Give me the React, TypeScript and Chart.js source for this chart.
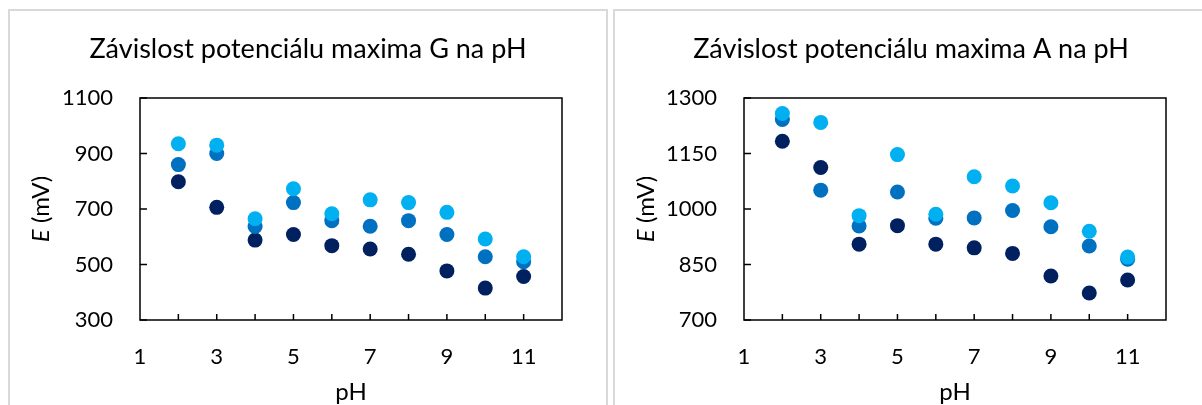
import React, { useEffect, useRef } from 'react';
import { Chart, registerables } from 'chart.js';

Chart.register(...registerables);

// ---------- data ----------
const pH = [2, 3, 4, 5, 6, 7, 8, 9, 10, 11];
const xTickLabels = [1, 3, 5, 7, 9, 11];
const xTickMarks = [2, 3, 4, 5, 6, 7, 8, 9, 10, 11];

const gTitle = 'Závislost potenciálu maxima G na pH';
const gYTicks = [300, 500, 700, 900, 1100];
const gLight = [935, 930, 665, 773, 683, 733, 723, 688, 592, 528];
const gMedium = [860, 900, 637, 723, 658, 638, 658, 608, 528, 510];
const gDark = [798, 706, 588, 608, 568, 556, 537, 477, 415, 457];

const aTitle = 'Závislost potenciálu maxima A na pH';
const aYTicks = [700, 850, 1000, 1150, 1300];
const aLight = [1258, 1234, 982, 1147, 986, 1087, 1062, 1017, 940, 870];
const aMedium = [1242, 1051, 954, 1046, 975, 976, 996, 952, 900, 864];
const aDark = [1183, 1112, 905, 955, 905, 895, 880, 819, 773, 808];

const xTitle = 'pH';
const yTitleItalic = 'E';
const yTitleRest = ' (mV)';

// ---------- styles ----------
const FONT = 'Lato, Carlito, Calibri, sans-serif';
const COLORS = { light: '#00B0F0', medium: '#0070C0', dark: '#002060' };
const TICK_FONT = 22;
const AXIS_TITLE_FONT = 24;
const TITLE_FONT = 27;

const decorPlugin = {
  id: 'decor',
  beforeDatasetsDraw(chart: any, _args: any, opts: any) {
    const { ctx, chartArea: ca, scales } = chart;
    ctx.save();
    ctx.strokeStyle = '#000';
    ctx.lineWidth = 1.5;
    ctx.strokeRect(ca.left, ca.top, ca.right - ca.left, ca.bottom - ca.top);
    ctx.beginPath();
    for (const v of opts.xMarks) {
      const x = scales.x.getPixelForValue(v);
      ctx.moveTo(x, ca.bottom);
      ctx.lineTo(x, ca.bottom - 6);
    }
    for (const v of opts.yMarks) {
      const y = scales.y.getPixelForValue(v);
      ctx.moveTo(ca.left, y);
      ctx.lineTo(ca.left + 7, y);
    }
    ctx.stroke();
    ctx.restore();
  },
  afterDraw(chart: any, _args: any, opts: any) {
    const { ctx, chartArea: ca } = chart;
    ctx.save();
    ctx.fillStyle = '#000';
    ctx.textBaseline = 'alphabetic';
    ctx.textAlign = 'center';
    ctx.font = `${TITLE_FONT}px ${FONT}`;
    ctx.fillText(opts.title, chart.width / 2, opts.titleBaseline);
    ctx.font = `${AXIS_TITLE_FONT}px ${FONT}`;
    ctx.fillText(xTitle, (ca.left + ca.right) / 2, opts.xTitleBaseline);
    // y title rotated with italic E
    ctx.translate(opts.yTitleX, (ca.top + ca.bottom) / 2);
    ctx.rotate(-Math.PI / 2);
    ctx.textAlign = 'left';
    ctx.textBaseline = 'middle';
    ctx.font = `italic ${AXIS_TITLE_FONT}px ${FONT}`;
    const w1 = ctx.measureText(yTitleItalic).width;
    ctx.font = `${AXIS_TITLE_FONT}px ${FONT}`;
    const w2 = ctx.measureText(yTitleRest).width;
    const start = -(w1 + w2) / 2;
    ctx.font = `italic ${AXIS_TITLE_FONT}px ${FONT}`;
    ctx.fillText(yTitleItalic, start, 0);
    ctx.font = `${AXIS_TITLE_FONT}px ${FONT}`;
    ctx.fillText(yTitleRest, start + w1, 0);
    ctx.restore();
  },
};

type PanelProps = {
  title: string;
  light: number[];
  medium: number[];
  dark: number[];
  yTicks: number[];
  width: number;
  height: number;
  plotLeft: number;
  plotRight: number;
  plotTop: number;
  plotBottom: number;
};

function Panel(p: PanelProps) {
  const ref = useRef<HTMLCanvasElement>(null);
  useEffect(() => {
    if (!ref.current) return;
    const mk = (vals: number[]) => pH.map((x, i) => ({ x, y: vals[i] }));
    const ds = (label: string, vals: number[], color: string) => ({
      label,
      data: mk(vals),
      backgroundColor: color,
      borderColor: color,
      borderWidth: 0,
      pointRadius: 7.5,
      pointHoverRadius: 7.5,
      showLine: false,
    });
    const tickFont = { family: FONT, size: TICK_FONT };
    const chart = new Chart(ref.current, {
      type: 'scatter',
      data: {
        datasets: [
          ds('light', p.light, COLORS.light),
          ds('medium', p.medium, COLORS.medium),
          ds('dark', p.dark, COLORS.dark),
        ],
      },
      options: {
        animation: false,
        responsive: false,
        devicePixelRatio: 1,
        layout: {
          padding: { top: p.plotTop, right: p.width - p.plotRight, left: 0, bottom: 0 },
        },
        plugins: {
          legend: { display: false },
          tooltip: { enabled: false },
          title: { display: false },
          decor: {
            title: p.title,
            titleBaseline: 47,
            xTitleBaseline: 389,
            yTitleX: 31,
            xMarks: xTickMarks,
            yMarks: p.yTicks,
          },
        } as any,
        scales: {
          x: {
            type: 'linear',
            min: 1,
            max: 12,
            afterBuildTicks: (s: any) => {
              s.ticks = xTickLabels.map((v) => ({ value: v }));
            },
            afterFit: (s: any) => {
              s.height = p.height - p.plotBottom;
            },
            ticks: {
              font: tickFont,
              color: '#000',
              padding: 24,
              maxRotation: 0,
              autoSkip: false,
              callback: (v: any) => String(v),
            },
            grid: { display: false, drawTicks: false },
            border: { display: false },
          },
          y: {
            type: 'linear',
            min: p.yTicks[0],
            max: p.yTicks[p.yTicks.length - 1],
            afterBuildTicks: (s: any) => {
              s.ticks = p.yTicks.map((v) => ({ value: v }));
            },
            afterFit: (s: any) => {
              s.width = p.plotLeft;
            },
            ticks: { font: tickFont, color: '#000', padding: 27, callback: (v: any) => String(v) },
            grid: { display: false, drawTicks: false },
            border: { display: false },
          },
        },
      },
      plugins: [decorPlugin],
    } as any);
    return () => chart.destroy();
  }, []);
  return <canvas ref={ref} width={p.width} height={p.height} style={{ display: 'block' }} />;
}

export default function App() {
  const boxBase: React.CSSProperties = {
    position: 'absolute',
    top: 9,
    height: 420,
    border: '2px solid #d9d9d9',
    background: '#fff',
    boxSizing: 'border-box',
  };
  return (
    <div style={{ position: 'fixed', left: 0, top: 0, width: 1202, height: 405, overflow: 'hidden', background: '#fff' }}>
      <div style={{ ...boxBase, left: 8, width: 600 }}>
        <Panel
          title={gTitle}
          light={gLight}
          medium={gMedium}
          dark={gDark}
          yTicks={gYTicks}
          width={596}
          height={394}
          plotLeft={130}
          plotRight={552}
          plotTop={87}
          plotBottom={309}
        />
      </div>
      <div style={{ ...boxBase, left: 613, width: 596 }}>
        <Panel
          title={aTitle}
          light={aLight}
          medium={aMedium}
          dark={aDark}
          yTicks={aYTicks}
          width={592}
          height={394}
          plotLeft={129}
          plotRight={551}
          plotTop={87}
          plotBottom={309}
        />
      </div>
    </div>
  );
}
